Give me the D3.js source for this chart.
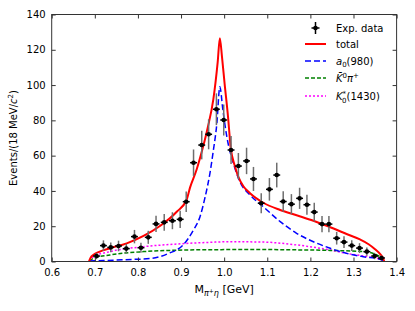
<!DOCTYPE html>
<html lang="en">
<head>
  <meta charset="UTF-8">
  <title>M(pi+ eta) fit</title>
  <script src="https://d3js.org/d3.v7.min.js"></script>
  <style>
    body { margin: 0; background: #fff; }
    svg text { font-family: "DejaVu Sans", sans-serif; fill: #000; }
  </style>
</head>
<body>
  <div class="canvas"></div>
  <script>
    // experimental points
    const dataX = [0.704, 0.720, 0.737, 0.755, 0.773, 0.792, 0.807, 0.824, 0.842, 0.861,
      0.880, 0.898, 0.912, 0.929, 0.948, 0.964, 0.982, 0.999, 1.016, 1.033,
      1.052, 1.068, 1.086, 1.105, 1.122, 1.137, 1.156, 1.175, 1.192, 1.209,
      1.227, 1.243, 1.261, 1.278, 1.296, 1.314, 1.331, 1.349, 1.365];
    const dataY = [3.1, 9.0, 8.0, 8.8, 7.3, 14.1, 7.8, 13.7, 21.3, 22.2,
      23.1, 23.9, 33.9, 56.0, 66.0, 72.1, 86.3, 80.2, 63.2, 54.1,
      57.0, 46.8, 33.0, 40.9, 49.0, 34.0, 32.5, 35.8, 32.2, 28.0,
      21.2, 21.2, 13.2, 11.0, 9.0, 7.6, 5.6, 3.1, 2.0];
    const dataErr = [1.8, 3.0, 2.8, 3.0, 2.7, 3.8, 2.8, 3.7, 4.6, 4.7,
      4.8, 4.9, 5.8, 7.5, 8.1, 8.5, 9.0, 8.8, 8.0, 7.4,
      7.5, 6.8, 5.7, 6.4, 7.0, 5.8, 5.7, 6.0, 5.7, 5.3,
      4.6, 4.6, 3.6, 3.3, 3.0, 2.8, 2.4, 1.8, 1.4];

    // fit components
    const totalX = [0.687, 0.690, 0.697, 0.710, 0.735, 0.774, 0.813, 0.851, 0.890, 0.913,
      0.921, 0.936, 0.950, 0.962, 0.975, 0.985, 0.990, 0.995, 1.001, 1.009,
      1.015, 1.025, 1.033, 1.045, 1.060, 1.091, 1.130, 1.168, 1.207, 1.246,
      1.284, 1.315, 1.335, 1.350, 1.362, 1.368, 1.371];
    const totalY = [0.3, 2.0, 3.8, 5.5, 7.5, 10.3, 14.5, 20.1, 28.2, 35.0,
      42.0, 52.0, 64.0, 76.0, 92.0, 113.0, 126.5, 116.0, 101.0, 82.0,
      65.0, 54.0, 48.0, 42.5, 38.7, 33.3, 29.2, 26.2, 23.1, 19.4,
      15.6, 12.5, 9.8, 7.0, 4.2, 2.2, 0.3];

    const a0X = [0.688, 0.720, 0.770, 0.832, 0.871, 0.905, 0.929, 0.944, 0.956, 0.967,
      0.975, 0.983, 0.990, 0.997, 1.006, 1.021, 1.037, 1.060, 1.091, 1.130,
      1.168, 1.207, 1.246, 1.284, 1.323, 1.362, 1.370];
    const a0Y = [0.3, 0.5, 1.0, 1.8, 4.6, 9.4, 17.9, 25.4, 36.7, 50.0,
      63.0, 78.0, 99.0, 86.0, 71.0, 56.0, 45.0, 37.7, 31.0, 22.6,
      16.0, 11.2, 7.5, 4.6, 2.7, 1.2, 0.2];

    const kpiX = [0.688, 0.697, 0.735, 0.813, 0.890, 0.980, 1.080, 1.168, 1.246, 1.323, 1.354, 1.366, 1.370];
    const kpiY = [0.3, 1.8, 3.7, 5.6, 6.4, 6.7, 6.8, 6.6, 6.3, 5.6, 3.7, 1.8, 0.5];

    const k1430X = [0.688, 0.697, 0.735, 0.813, 0.890, 0.960, 1.014, 1.091, 1.168, 1.246, 1.284, 1.323, 1.362, 1.370];
    const k1430Y = [0.3, 2.7, 5.6, 8.4, 9.9, 10.8, 11.2, 11.0, 9.4, 6.5, 4.6, 3.1, 1.2, 0.3];

    const xTicks = [0.6, 0.7, 0.8, 0.9, 1.0, 1.1, 1.2, 1.3, 1.4];
    const yTicks = [0, 20, 40, 60, 80, 100, 120, 140];

    const svgWidth = 415;
    const svgHeight = 311;
    const margin = { top: 14.5, right: 18.4, bottom: 49.5, left: 51.7 };
    const graphWidth = svgWidth - margin.left - margin.right;
    const graphHeight = svgHeight - margin.top - margin.bottom;

    const svg = d3.select(".canvas").append("svg")
      .attr("width", svgWidth)
      .attr("height", svgHeight);

    const graph = svg.append("g")
      .attr("transform", `translate(${margin.left}, ${margin.top})`);

    const x = d3.scaleLinear().domain([0.6, 1.4]).range([0, graphWidth]);
    const y = d3.scaleLinear().domain([0, 140]).range([graphHeight, 0]);

    const clip = svg.append("clipPath").attr("id", "plotclip")
      .append("rect").attr("width", graphWidth).attr("height", graphHeight);

    const zip = (xs, ys) => xs.map((v, i) => [v, ys[i]]);
    const line = d3.line()
      .x(d => x(d[0]))
      .y(d => y(d[1]))
      .curve(d3.curveMonotoneX);

    const curves = graph.append("g").attr("clip-path", "url(#plotclip)");

    curves.append("path").datum(zip(k1430X, k1430Y))
      .attr("fill", "none").attr("stroke", "#ff00ff").attr("stroke-width", 1.5)
      .attr("stroke-dasharray", "2,2").attr("d", line);
    curves.append("path").datum(zip(kpiX, kpiY))
      .attr("fill", "none").attr("stroke", "#008000").attr("stroke-width", 1.5)
      .attr("stroke-dasharray", "4,2").attr("d", line);
    curves.append("path").datum(zip(a0X, a0Y))
      .attr("fill", "none").attr("stroke", "#0000ff").attr("stroke-width", 1.5)
      .attr("stroke-dasharray", "6,3").attr("d", line);
    curves.append("path").datum(zip(totalX, totalY))
      .attr("fill", "none").attr("stroke", "#ff0000").attr("stroke-width", 2)
      .attr("stroke-linecap", "round").attr("d", line);

    // data points with error bars
    const points = graph.append("g").selectAll("g")
      .data(dataX.map((v, i) => ({ x: v, y: dataY[i], e: dataErr[i] })))
      .join("g");

    points.append("line")
      .attr("x1", d => x(d.x)).attr("x2", d => x(d.x))
      .attr("y1", d => y(d.y - d.e)).attr("y2", d => y(d.y + d.e))
      .attr("stroke", "#6e6e6e").attr("stroke-width", 1.5);
    points.append("line")
      .attr("x1", d => x(d.x - 0.008)).attr("x2", d => x(d.x + 0.008))
      .attr("y1", d => y(d.y)).attr("y2", d => y(d.y))
      .attr("stroke", "#000").attr("stroke-width", 1.5);
    points.append("circle")
      .attr("cx", d => x(d.x)).attr("cy", d => y(d.y))
      .attr("r", 2.3).attr("fill", "#000");

    // axes with inward ticks on all sides
    const tickLen = 4;
    const xAxisGroup = graph.append("g").attr("transform", `translate(0, ${graphHeight})`)
      .call(d3.axisBottom(x).tickValues(xTicks).tickSizeInner(-tickLen).tickSizeOuter(0)
        .tickPadding(7).tickFormat(d3.format(".1f")));
    const yAxisGroup = graph.append("g")
      .call(d3.axisLeft(y).tickValues(yTicks).tickSizeInner(-tickLen).tickSizeOuter(0)
        .tickPadding(6));
    const topAxis = graph.append("g")
      .call(d3.axisTop(x).tickValues(xTicks).tickSizeInner(-tickLen).tickSizeOuter(0).tickFormat(""));
    const rightAxis = graph.append("g").attr("transform", `translate(${graphWidth}, 0)`)
      .call(d3.axisRight(y).tickValues(yTicks).tickSizeInner(-tickLen).tickSizeOuter(0).tickFormat(""));

    [xAxisGroup, yAxisGroup, topAxis, rightAxis].forEach(g => {
      g.select(".domain").remove();
      g.selectAll("line").attr("stroke", "#333");
      g.selectAll("text").attr("font-size", 10).attr("font-family", "DejaVu Sans").attr("fill", "#000");
    });

    graph.append("rect")
      .attr("width", graphWidth).attr("height", graphHeight)
      .attr("fill", "none").attr("stroke", "#333").attr("stroke-width", 1);

    // axis labels
    const xl = svg.append("text")
      .attr("x", margin.left + graphWidth / 2).attr("y", 293)
      .attr("text-anchor", "middle").attr("font-size", 11);
    xl.append("tspan").text("M");
    xl.append("tspan").attr("font-size", 8).attr("font-style", "italic").attr("dy", 2.5).text("π");
    xl.append("tspan").attr("font-size", 6).attr("dy", -3).text("+");
    xl.append("tspan").attr("font-size", 8).attr("font-style", "italic").attr("dy", 3).text("η");
    xl.append("tspan").attr("dy", -2.5).text(" [GeV]");

    const yl = svg.append("text")
      .attr("transform", `translate(17, ${margin.top + graphHeight / 2}) rotate(-90)`)
      .attr("text-anchor", "middle").attr("font-size", 10);
    yl.append("tspan").text("Events/(18 MeV/");
    yl.append("tspan").attr("font-style", "italic").text("c");
    yl.append("tspan").attr("font-size", 7).attr("dy", -4).text("2");
    yl.append("tspan").attr("dy", 4).text(")");

    // legend
    const legend = svg.append("g");
    const lx0 = 305, lx1 = 326, tx = 336;
    const rows = [28, 44, 61, 78, 96];

    legend.append("line").attr("x1", 315.5).attr("x2", 315.5).attr("y1", rows[0] - 6).attr("y2", rows[0] + 6)
      .attr("stroke", "#000").attr("stroke-width", 1.5);
    legend.append("line").attr("x1", 311.5).attr("x2", 319.5).attr("y1", rows[0]).attr("y2", rows[0])
      .attr("stroke", "#000").attr("stroke-width", 1.5);
    legend.append("circle").attr("cx", 315.5).attr("cy", rows[0]).attr("r", 2.3).attr("fill", "#000");

    const legLines = [
      { y: rows[1], c: "#ff0000", w: 2, dash: null },
      { y: rows[2], c: "#0000ff", w: 1.5, dash: "6,3" },
      { y: rows[3], c: "#008000", w: 1.5, dash: "4,2" },
      { y: rows[4], c: "#ff00ff", w: 1.5, dash: "2,2" }
    ];
    legLines.forEach(l => {
      legend.append("line").attr("x1", lx0).attr("x2", lx1).attr("y1", l.y).attr("y2", l.y)
        .attr("stroke", l.c).attr("stroke-width", l.w).attr("stroke-dasharray", l.dash);
    });

    const lt = (yy) => legend.append("text").attr("x", tx).attr("y", yy + 3.5).attr("font-size", 10);
    lt(rows[0]).text("Exp. data");
    lt(rows[1]).text("total");
    const t2 = lt(rows[2]);
    t2.append("tspan").attr("font-style", "italic").text("a");
    t2.append("tspan").attr("font-size", 7).attr("dy", 2.5).text("0");
    t2.append("tspan").attr("dy", -2.5).text("(980)");
    const t3 = lt(rows[3]);
    t3.append("tspan").attr("font-style", "italic").text("K\u0304");
    t3.append("tspan").attr("font-size", 7).attr("dy", -4).text("0");
    t3.append("tspan").attr("font-style", "italic").attr("dy", 4).text("π");
    t3.append("tspan").attr("font-size", 7).attr("dy", -4).text("+");
    const t4 = lt(rows[4]);
    t4.append("tspan").attr("font-style", "italic").text("K");
    t4.append("tspan").attr("font-size", 7).attr("dy", -4).text("*");
    t4.append("tspan").attr("font-size", 7).attr("dx", -4).attr("dy", 7).text("0");
    t4.append("tspan").attr("dy", -3).text("(1430)");
  </script>
</body>
</html>
